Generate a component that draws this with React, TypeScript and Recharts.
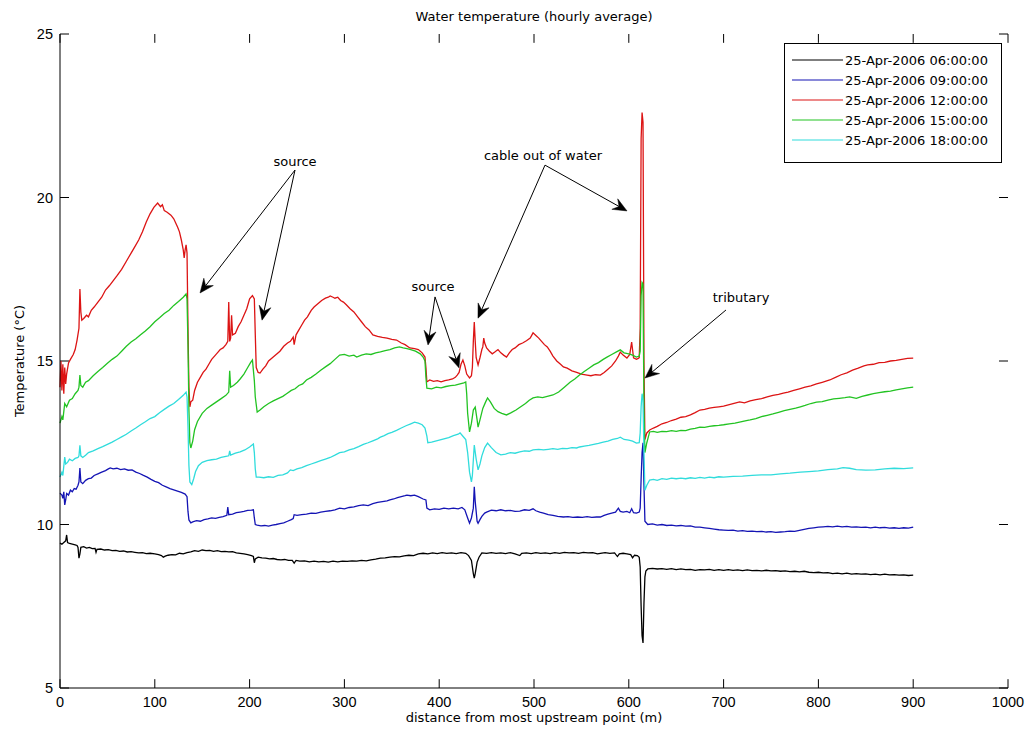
import React from 'react';
import { LineChart, Line, XAxis, YAxis, Legend, ReferenceLine, ReferenceDot } from 'recharts';

const FONT = '"DejaVu Sans", "Liberation Sans", sans-serif';
const TICK_FONT = '"Liberation Sans", Arial, sans-serif';

const xTicks = [0, 100, 200, 300, 400, 500, 600, 700, 800, 900, 1000];
const yTicks = [5, 10, 15, 20, 25];
const xDomain = [0, 1000];
const yDomain = [5, 25];

const seriesNames = [
  '25-Apr-2006 06:00:00',
  '25-Apr-2006 09:00:00',
  '25-Apr-2006 12:00:00',
  '25-Apr-2006 15:00:00',
  '25-Apr-2006 18:00:00',
];
const seriesColors = ['#000000', '#1414b4', '#dc1414', '#22c322', '#30dcdc'];

// [distance (m), temperature (°C)]
const t06 = [
  [0,9.43],[2,9.4],[4,9.45],[6,9.5],[7,9.68],[8,9.45],[10,9.42],[13,9.4],[16,9.38],[18,9.36],[19,9.3],[20,8.97],[21,9.1],[22,9.3],[25,9.32],[28,9.28],[31,9.3],[34,9.26],[37,9.27],[38,9.15],[39,9.24],[43,9.25],[47,9.22],[51,9.23],[55,9.2],[59,9.21],[63,9.18],[67,9.19],[71,9.16],[75,9.17],[79,9.15],[83,9.13],[87,9.14],[91,9.11],[95,9.12],[100,9.1],[104,9.08],[107,9.05],[109,9.0],[111,9.03],[114,9.06],[118,9.08],[122,9.07],[126,9.12],[130,9.1],[134,9.14],[138,9.16],[142,9.2],[146,9.18],[150,9.22],[154,9.2],[158,9.21],[162,9.18],[166,9.2],[170,9.17],[174,9.18],[178,9.16],[182,9.17],[186,9.13],[190,9.12],[194,9.1],[198,9.08],[202,9.05],[204,9.02],[205,8.83],[206,8.95],[209,9.0],[213,8.98],[217,8.97],[221,8.95],[225,8.96],[229,8.93],[233,8.92],[237,8.93],[241,8.9],[245,8.9],[247,8.82],[249,8.9],[253,8.88],[258,8.89],[263,8.86],[268,8.88],[273,8.86],[278,8.87],[283,8.85],[288,8.88],[293,8.86],[298,8.88],[303,8.87],[308,8.89],[313,8.88],[318,8.9],[323,8.89],[328,8.92],[333,8.94],[338,8.97],[343,8.98],[348,9.0],[353,9.02],[358,9.01],[363,9.04],[368,9.06],[373,9.05],[378,9.1],[383,9.12],[388,9.1],[393,9.13],[398,9.11],[403,9.14],[408,9.12],[413,9.13],[418,9.11],[423,9.14],[428,9.12],[431,9.05],[434,8.9],[436,8.5],[437,8.36],[438,8.5],[440,8.85],[442,9.0],[445,9.13],[450,9.12],[455,9.14],[460,9.12],[465,9.13],[470,9.11],[475,9.14],[480,9.1],[485,9.05],[487,9.12],[492,9.13],[497,9.11],[502,9.14],[507,9.12],[512,9.13],[517,9.11],[522,9.14],[527,9.12],[532,9.15],[537,9.13],[542,9.14],[547,9.12],[552,9.15],[557,9.13],[562,9.14],[567,9.1],[570,9.12],[575,9.14],[580,9.12],[585,9.13],[588,9.02],[590,9.1],[594,9.12],[598,9.1],[602,9.08],[604,8.98],[606,9.06],[609,9.05],[611,9.0],[612,8.7],[613,7.5],[614,6.6],[615,6.38],[616,7.6],[617,8.4],[618,8.58],[620,8.64],[625,8.66],[630,8.64],[635,8.65],[640,8.63],[645,8.65],[650,8.62],[655,8.64],[660,8.62],[665,8.63],[670,8.6],[675,8.62],[680,8.61],[685,8.63],[690,8.6],[695,8.62],[700,8.6],[705,8.62],[710,8.6],[715,8.61],[720,8.59],[725,8.61],[730,8.59],[735,8.6],[740,8.58],[745,8.6],[750,8.58],[755,8.59],[760,8.57],[765,8.58],[770,8.56],[775,8.57],[780,8.55],[785,8.57],[790,8.54],[795,8.53],[800,8.54],[805,8.52],[810,8.53],[815,8.5],[820,8.51],[825,8.49],[830,8.51],[835,8.48],[840,8.5],[845,8.48],[850,8.49],[855,8.47],[860,8.48],[865,8.46],[870,8.48],[875,8.46],[880,8.47],[885,8.45],[890,8.46],[895,8.44],[900,8.45],
];

const t09 = [
  [0,10.96],[2,10.9],[3,10.8],[4,11.0],[5,10.6],[6,10.75],[7,10.95],[9,10.9],[11,11.05],[13,11.0],[15,11.1],[17,11.08],[19,11.2],[20,11.3],[21,11.73],[22,11.3],[24,11.25],[27,11.35],[30,11.4],[33,11.42],[36,11.5],[40,11.55],[44,11.6],[48,11.65],[51,11.7],[53,11.73],[56,11.7],[60,11.72],[64,11.68],[68,11.7],[72,11.66],[76,11.67],[80,11.6],[84,11.56],[88,11.5],[92,11.45],[96,11.38],[100,11.32],[104,11.28],[108,11.2],[112,11.15],[116,11.1],[120,11.06],[124,11.02],[128,10.98],[132,10.93],[134,10.85],[135,10.4],[136,10.14],[138,10.05],[140,10.08],[144,10.12],[148,10.1],[152,10.15],[156,10.17],[160,10.2],[164,10.19],[168,10.22],[172,10.24],[176,10.28],[177,10.53],[178,10.3],[182,10.32],[186,10.36],[190,10.38],[194,10.4],[198,10.43],[202,10.44],[204,10.45],[205,10.2],[206,10.0],[208,9.98],[212,9.96],[216,9.97],[220,9.95],[224,9.98],[228,10.0],[232,10.03],[236,10.05],[240,10.1],[244,10.15],[246,10.18],[247,10.3],[250,10.28],[255,10.3],[260,10.32],[265,10.35],[270,10.34],[275,10.38],[280,10.4],[285,10.42],[290,10.45],[295,10.5],[300,10.48],[305,10.52],[310,10.54],[315,10.58],[320,10.6],[325,10.58],[330,10.64],[335,10.68],[340,10.7],[345,10.72],[348,10.75],[352,10.78],[356,10.82],[360,10.85],[364,10.88],[366,10.9],[370,10.88],[374,10.9],[378,10.85],[383,10.78],[386,10.75],[387,10.5],[390,10.45],[395,10.48],[400,10.46],[405,10.5],[410,10.48],[415,10.5],[420,10.48],[424,10.52],[427,10.45],[430,10.2],[432,10.04],[434,10.2],[436,10.5],[437,11.15],[438,10.7],[440,10.1],[441,10.04],[443,10.15],[445,10.25],[448,10.35],[450,10.38],[455,10.44],[460,10.42],[465,10.45],[470,10.42],[475,10.43],[480,10.4],[485,10.41],[490,10.45],[495,10.43],[499,10.48],[502,10.42],[506,10.38],[510,10.35],[515,10.3],[520,10.28],[525,10.25],[531,10.23],[536,10.24],[541,10.22],[546,10.23],[551,10.22],[556,10.24],[561,10.22],[566,10.23],[570,10.23],[574,10.28],[578,10.32],[582,10.35],[586,10.38],[589,10.5],[591,10.4],[594,10.38],[598,10.4],[601,10.36],[603,10.48],[605,10.36],[608,10.35],[611,10.38],[612,10.5],[613,11.4],[614,12.2],[615,12.5],[616,11.2],[617,10.1],[620,10.0],[625,10.02],[630,9.98],[635,10.0],[640,9.97],[645,9.98],[650,9.96],[655,9.97],[660,9.95],[665,9.96],[670,9.92],[675,9.92],[680,9.9],[685,9.88],[690,9.86],[695,9.84],[700,9.83],[705,9.82],[710,9.83],[715,9.8],[720,9.81],[725,9.79],[730,9.8],[735,9.78],[740,9.79],[745,9.77],[750,9.78],[755,9.76],[760,9.77],[765,9.78],[770,9.8],[775,9.79],[780,9.82],[785,9.85],[790,9.88],[795,9.9],[800,9.92],[805,9.93],[810,9.94],[815,9.93],[820,9.95],[825,9.93],[830,9.94],[835,9.92],[840,9.93],[845,9.91],[850,9.92],[855,9.9],[860,9.92],[865,9.9],[870,9.91],[875,9.89],[880,9.9],[885,9.88],[890,9.9],[895,9.89],[900,9.92],
];

const t12 = [
  [0,14.2],[1,15.0],[2,14.1],[3,14.9],[4,14.0],[5,14.8],[6,14.3],[7,14.6],[9,14.94],[11,15.05],[14,15.2],[16,15.35],[18,15.64],[20,16.0],[21,17.2],[22,16.5],[23,16.25],[25,16.3],[28,16.4],[30,16.35],[33,16.55],[36,16.65],[40,16.8],[44,16.95],[48,17.17],[52,17.3],[56,17.45],[60,17.6],[65,17.8],[70,18.05],[75,18.3],[79,18.5],[83,18.7],[87,18.95],[91,19.25],[95,19.5],[99,19.7],[103,19.83],[106,19.72],[108,19.78],[110,19.6],[113,19.55],[117,19.46],[120,19.35],[124,19.1],[126,18.95],[128,18.7],[130,18.4],[131,18.15],[132,18.4],[133,18.55],[134,18.3],[135,16.0],[136,14.2],[137,13.6],[138,13.75],[140,13.8],[142,14.1],[145,14.35],[148,14.5],[151,14.65],[154,14.75],[157,14.9],[160,15.05],[163,15.15],[166,15.25],[169,15.35],[172,15.4],[175,15.5],[177,15.6],[178,16.8],[179,15.6],[180,15.7],[181,16.4],[182,15.8],[185,15.85],[188,16.05],[191,16.2],[194,16.4],[197,16.6],[200,16.9],[203,17.0],[205,16.9],[206,15.8],[207,14.8],[209,14.65],[211,14.63],[214,14.75],[217,14.85],[220,15.0],[224,15.1],[228,15.2],[232,15.3],[236,15.45],[240,15.55],[243,15.6],[246,15.73],[247,15.5],[249,15.8],[252,15.95],[255,16.1],[258,16.25],[261,16.35],[265,16.55],[268,16.65],[272,16.75],[276,16.85],[280,16.92],[283,16.95],[285,16.99],[288,16.95],[290,16.92],[293,16.95],[296,16.85],[299,16.8],[302,16.72],[306,16.6],[310,16.5],[314,16.35],[318,16.2],[322,16.05],[326,15.95],[330,15.8],[335,15.75],[340,15.72],[345,15.7],[350,15.66],[355,15.64],[360,15.55],[364,15.5],[369,15.4],[374,15.38],[378,15.35],[382,15.25],[385,15.12],[386,14.8],[387,14.36],[390,14.42],[394,14.38],[398,14.4],[402,14.36],[406,14.4],[410,14.42],[414,14.45],[417,14.5],[419,14.57],[421,14.65],[423,14.9],[425,15.03],[427,14.85],[429,14.6],[432,14.48],[434,14.55],[435,14.8],[436,15.6],[437,16.19],[438,15.6],[439,15.1],[441,14.88],[443,15.1],[445,15.35],[446,15.43],[447,15.7],[448,15.55],[450,15.4],[453,15.3],[456,15.22],[459,15.28],[462,15.35],[465,15.25],[468,15.18],[471,15.12],[474,15.25],[477,15.35],[480,15.4],[484,15.5],[488,15.55],[492,15.62],[496,15.7],[499,15.86],[502,15.78],[505,15.7],[508,15.6],[511,15.5],[514,15.43],[517,15.3],[520,15.15],[524,15.0],[528,14.9],[531,14.82],[535,14.78],[540,14.7],[545,14.65],[550,14.6],[556,14.57],[560,14.55],[565,14.58],[570,14.57],[574,14.65],[578,14.75],[582,14.85],[586,15.0],[589,15.15],[591,15.27],[594,15.18],[598,15.09],[601,15.2],[603,15.58],[605,15.1],[608,15.05],[610,15.08],[611,15.1],[612,16.0],[613,21.8],[614,22.6],[615,22.3],[616,15.0],[617,12.6],[619,12.8],[622,12.89],[626,12.95],[630,13.0],[635,13.08],[640,13.12],[645,13.18],[650,13.22],[655,13.28],[660,13.3],[665,13.35],[670,13.42],[675,13.5],[680,13.52],[685,13.56],[690,13.58],[695,13.6],[700,13.62],[705,13.66],[710,13.7],[717,13.75],[722,13.72],[728,13.78],[734,13.82],[740,13.85],[746,13.9],[752,13.95],[758,13.98],[763,14.02],[768,14.05],[774,14.1],[780,14.15],[786,14.2],[792,14.24],[798,14.3],[804,14.35],[812,14.42],[818,14.5],[824,14.58],[830,14.64],[836,14.72],[842,14.78],[848,14.85],[852,14.88],[858,14.9],[864,14.95],[870,14.96],[876,15.0],[882,15.02],[888,15.05],[894,15.08],[900,15.09],
];

const t15 = [
  [0,13.1],[2,13.3],[3,13.2],[5,13.7],[7,13.6],[10,13.8],[13,13.85],[16,14.0],[19,14.1],[20,14.2],[21,14.57],[22,14.25],[24,14.2],[27,14.35],[30,14.4],[35,14.55],[40,14.68],[45,14.8],[50,14.93],[55,15.05],[60,15.15],[65,15.3],[70,15.45],[75,15.58],[80,15.68],[85,15.8],[90,15.92],[95,16.05],[100,16.2],[105,16.32],[110,16.45],[115,16.55],[120,16.7],[125,16.82],[130,16.95],[133,17.05],[134,16.9],[135,15.5],[136,13.5],[137,12.5],[138,12.34],[140,12.55],[142,12.9],[145,13.15],[150,13.4],[155,13.55],[160,13.65],[165,13.75],[170,13.85],[175,13.95],[178,14.05],[179,14.7],[180,14.2],[183,14.25],[187,14.35],[190,14.45],[194,14.6],[198,14.8],[201,14.95],[203,15.03],[205,14.4],[206,13.9],[208,13.44],[211,13.5],[215,13.6],[220,13.7],[225,13.78],[230,13.85],[235,13.92],[239,14.0],[244,14.1],[248,14.15],[252,14.25],[256,14.3],[260,14.42],[265,14.5],[270,14.6],[275,14.72],[280,14.82],[285,14.92],[290,15.05],[295,15.18],[300,15.2],[305,15.15],[310,15.18],[313,15.12],[318,15.18],[323,15.22],[328,15.2],[333,15.25],[338,15.28],[343,15.32],[348,15.35],[353,15.4],[358,15.43],[362,15.4],[366,15.38],[370,15.35],[375,15.3],[380,15.22],[383,15.12],[385,15.0],[386,14.5],[387,14.17],[392,14.15],[397,14.2],[402,14.18],[407,14.22],[412,14.25],[417,14.26],[422,14.3],[426,14.33],[428,14.36],[429,14.0],[430,13.4],[432,12.83],[434,13.1],[436,13.5],[438,13.59],[440,13.2],[441,12.98],[443,13.2],[446,13.55],[449,13.75],[451,13.87],[454,13.75],[458,13.55],[462,13.45],[466,13.4],[471,13.35],[476,13.42],[481,13.5],[486,13.6],[491,13.7],[495,13.8],[499,13.87],[504,13.9],[509,13.88],[514,13.92],[520,13.96],[526,14.05],[532,14.2],[538,14.35],[543,14.45],[548,14.57],[553,14.68],[558,14.78],[563,14.88],[568,14.95],[573,15.05],[577,15.12],[582,15.2],[587,15.28],[591,15.34],[595,15.25],[600,15.22],[604,15.18],[608,15.12],[611,15.15],[612,15.3],[613,17.0],[614,17.4],[615,17.35],[616,13.5],[617,12.2],[619,12.5],[622,12.83],[626,12.85],[630,12.82],[635,12.85],[640,12.84],[645,12.87],[650,12.85],[655,12.88],[660,12.87],[665,12.92],[670,12.94],[675,12.98],[680,12.97],[685,13.0],[690,13.02],[695,13.03],[700,13.05],[706,13.08],[712,13.1],[718,13.14],[724,13.18],[728,13.2],[734,13.24],[740,13.3],[746,13.34],[752,13.38],[758,13.43],[764,13.48],[770,13.52],[776,13.56],[781,13.6],[786,13.64],[792,13.7],[798,13.74],[804,13.76],[810,13.8],[816,13.84],[822,13.86],[828,13.88],[833,13.9],[840,13.86],[846,13.92],[852,13.96],[858,14.0],[864,14.03],[870,14.06],[876,14.08],[882,14.12],[888,14.15],[894,14.18],[900,14.2],
];

const t18 = [
  [0,11.45],[2,11.6],[3,11.5],[5,12.06],[6,11.85],[8,11.9],[10,12.0],[13,11.95],[16,12.02],[19,12.05],[20,12.1],[21,12.42],[22,12.1],[24,12.05],[27,12.12],[30,12.2],[35,12.25],[40,12.32],[45,12.38],[50,12.45],[55,12.52],[60,12.6],[65,12.68],[70,12.76],[75,12.86],[80,12.95],[85,13.05],[90,13.14],[95,13.24],[100,13.3],[105,13.42],[110,13.52],[115,13.62],[120,13.7],[125,13.82],[130,13.95],[133,14.05],[134,13.9],[135,13.0],[136,11.8],[137,11.3],[139,11.22],[141,11.4],[143,11.62],[146,11.8],[150,11.9],[155,11.95],[160,11.98],[165,12.0],[170,12.05],[175,12.08],[178,12.1],[179,12.25],[180,12.12],[185,12.18],[190,12.22],[195,12.28],[200,12.37],[204,12.46],[205,12.2],[206,11.7],[207,11.45],[210,11.45],[215,11.43],[220,11.46],[225,11.44],[230,11.5],[235,11.52],[240,11.58],[243,11.67],[246,11.65],[250,11.7],[255,11.74],[260,11.8],[265,11.85],[270,11.9],[275,11.95],[280,12.0],[285,12.05],[290,12.12],[295,12.2],[300,12.22],[305,12.28],[310,12.32],[315,12.38],[320,12.45],[325,12.5],[330,12.56],[335,12.62],[338,12.67],[342,12.72],[346,12.78],[350,12.82],[355,12.88],[360,12.95],[365,13.02],[370,13.08],[374,13.13],[378,13.1],[382,13.05],[385,12.95],[387,12.7],[388,12.5],[392,12.52],[396,12.55],[400,12.58],[405,12.62],[410,12.66],[415,12.72],[420,12.76],[422,12.8],[425,12.7],[428,12.6],[430,12.2],[432,11.6],[434,11.3],[435,11.5],[437,12.43],[439,12.0],[441,11.67],[443,11.85],[445,12.1],[448,12.35],[451,12.49],[455,12.35],[460,12.2],[465,12.13],[470,12.15],[475,12.2],[480,12.18],[485,12.22],[490,12.25],[495,12.24],[499,12.28],[505,12.3],[510,12.28],[515,12.3],[520,12.32],[525,12.3],[530,12.33],[535,12.32],[540,12.35],[545,12.34],[548,12.37],[553,12.4],[558,12.42],[563,12.45],[568,12.48],[573,12.52],[578,12.55],[583,12.6],[588,12.63],[591,12.67],[595,12.6],[600,12.58],[604,12.55],[608,12.49],[611,12.5],[612,12.8],[613,13.6],[614,14.0],[615,13.8],[616,12.2],[617,11.05],[619,11.2],[622,11.36],[626,11.38],[630,11.35],[635,11.4],[640,11.38],[645,11.42],[650,11.4],[655,11.42],[660,11.4],[665,11.43],[670,11.41],[675,11.44],[680,11.42],[685,11.45],[690,11.43],[695,11.46],[700,11.45],[710,11.47],[720,11.48],[730,11.5],[740,11.52],[750,11.52],[760,11.55],[770,11.57],[781,11.6],[790,11.62],[800,11.64],[810,11.68],[820,11.7],[826,11.74],[833,11.72],[840,11.68],[850,11.66],[860,11.67],[870,11.7],[880,11.72],[890,11.71],[900,11.73],
];

const seriesValues = [t06, t09, t12, t15, t18];

// annotations: labels [distance, temperature, text]
const annotationLabels = [
  [247.9, 21.09, 'source'],
  [393.5, 17.29, 'source'],
  [509.5, 21.3, 'cable out of water'],
  [718.4, 16.93, 'tributary'],
];
// arrows: [fromDist, fromTemp, toDist, toTemp]
const annotationArrows = [
  [247.9, 20.84, 147.7, 17.08],
  [247.9, 20.84, 213.1, 16.25],
  [395.6, 16.96, 388.2, 15.49],
  [395.6, 16.96, 420.9, 14.79],
  [511.6, 20.99, 440.9, 16.31],
  [511.6, 20.99, 598.1, 19.59],
  [702.5, 16.56, 617.1, 14.48],
];

// inward tick mark length expressed in axis units (≈9 px)
const X_TICK_LEN = 0.27; // °C
const Y_TICK_LEN = 9.5; // m

const toRows = (arr: number[][]) => arr.map(([d, t]) => ({ d, t }));

const ArrowShape = (p: any) => {
  const { x1, y1, x2, y2 } = p;
  const ang = Math.atan2(y2 - y1, x2 - x1);
  const L = 14;
  const W = 6;
  const ux = Math.cos(ang);
  const uy = Math.sin(ang);
  const bx = x2 - ux * L;
  const by = y2 - uy * L;
  const nx = x2 - ux * L * 0.65;
  const ny = y2 - uy * L * 0.65;
  const pts = [
    [x2, y2],
    [bx - uy * W, by + ux * W],
    [nx, ny],
    [bx + uy * W, by - ux * W],
  ]
    .map((q) => q.join(','))
    .join(' ');
  return (
    <g>
      <line x1={x1} y1={y1} x2={nx} y2={ny} stroke="#000" strokeWidth={1} />
      <polygon points={pts} fill="#000" stroke="#000" strokeWidth={0.5} />
    </g>
  );
};

const TickMark = (p: any) => {
  const { x1, y1, x2, y2 } = p;
  return <line x1={x1} y1={y1} x2={x2} y2={y2} stroke="#000" strokeWidth={1} />;
};

const LegendBox = (props: any) => {
  const payload = props.payload || [];
  return (
    <div
      style={{
        width: 218,
        height: 120,
        border: '1px solid #000',
        background: '#fff',
        boxSizing: 'border-box',
        paddingTop: 6,
        fontFamily: FONT,
        fontSize: 13,
        color: '#000',
      }}
    >
      {payload.map((e: any, i: number) => (
        <div key={i} style={{ height: 20, display: 'flex', alignItems: 'center' }}>
          <svg width={60} height={20} style={{ display: 'block' }}>
            <line x1={7} y1={10} x2={58} y2={10} stroke={e.color} strokeWidth={1.2} />
          </svg>
          <span style={{ whiteSpace: 'nowrap' }}>{e.value}</span>
        </div>
      ))}
    </div>
  );
};

const tickStyle = { fill: '#000', fontSize: 14.5, fontFamily: TICK_FONT };

export default function App() {
  const tickSegments: any[] = [];
  xTicks.forEach((v) => {
    tickSegments.push([{ x: v, y: yDomain[0] }, { x: v, y: yDomain[0] + X_TICK_LEN }]);
    tickSegments.push([{ x: v, y: yDomain[1] }, { x: v, y: yDomain[1] - X_TICK_LEN }]);
  });
  yTicks.forEach((v) => {
    tickSegments.push([{ x: xDomain[0], y: v }, { x: xDomain[0] + Y_TICK_LEN, y: v }]);
    tickSegments.push([{ x: xDomain[1], y: v }, { x: xDomain[1] - Y_TICK_LEN, y: v }]);
  });

  return (
    <div style={{ position: 'absolute', left: 0, top: 0, width: 1027, height: 734, background: '#fff' }}>
      <LineChart width={1027} height={734} margin={{ top: 34, right: 19, bottom: 16, left: 20 }}>
        <XAxis
          dataKey="d"
          type="number"
          domain={xDomain}
          ticks={xTicks}
          height={30}
          tickSize={0}
          tickMargin={9}
          stroke="#000"
          tickLine={false}
          axisLine={{ stroke: '#000' }}
          tick={tickStyle}
          allowDuplicatedCategory={false}
          interval={0}
        />
        <XAxis
          xAxisId="top"
          orientation="top"
          dataKey="d"
          type="number"
          domain={xDomain}
          ticks={xTicks}
          height={0}
          tickSize={0}
          stroke="#000"
          tickLine={false}
          axisLine={{ stroke: '#000' }}
          tick={false}
        />
        <YAxis
          type="number"
          domain={yDomain}
          ticks={yTicks}
          width={40}
          tickSize={0}
          tickMargin={7}
          stroke="#000"
          tickLine={false}
          axisLine={{ stroke: '#000' }}
          tick={tickStyle}
          interval={0}
        />
        <YAxis
          yAxisId="right"
          orientation="right"
          type="number"
          domain={yDomain}
          ticks={yTicks}
          width={0}
          tickSize={0}
          stroke="#000"
          tickLine={false}
          axisLine={{ stroke: '#000' }}
          tick={false}
        />
        {tickSegments.map((s, i) => (
          <ReferenceLine key={'tk' + i} segment={s} shape={<TickMark />} ifOverflow="visible" />
        ))}
        {seriesValues.map((vals, i) => (
          <Line
            key={seriesNames[i]}
            data={toRows(vals)}
            dataKey="t"
            name={seriesNames[i]}
            stroke={seriesColors[i]}
            strokeWidth={1.3}
            dot={false}
            activeDot={false}
            type="linear"
            isAnimationActive={false}
          />
        ))}
        {annotationArrows.map((a, i) => (
          <ReferenceLine
            key={'arr' + i}
            segment={[
              { x: a[0], y: a[1] },
              { x: a[2], y: a[3] },
            ]}
            shape={<ArrowShape />}
            ifOverflow="visible"
          />
        ))}
        {annotationLabels.map((l, i) => (
          <ReferenceDot
            key={'lab' + i}
            x={l[0] as number}
            y={l[1] as number}
            ifOverflow="visible"
            shape={(p: any) => (
              <text
                x={p.cx}
                y={p.cy}
                dy="0.35em"
                textAnchor="middle"
                fontSize={13}
                fontFamily={FONT}
                fill="#000"
              >
                {l[2]}
              </text>
            )}
          />
        ))}
        <Legend
          layout="vertical"
          align="center"
          verticalAlign="middle"
          content={<LegendBox />}
          wrapperStyle={{ position: 'absolute', left: 784, top: 43, width: 218, height: 120 }}
        />
      </LineChart>
      <div
        style={{
          position: 'absolute',
          left: 60,
          width: 948,
          top: 8,
          height: 18,
          lineHeight: '18px',
          textAlign: 'center',
          fontFamily: FONT,
          fontSize: 13,
          color: '#000',
        }}
      >
        Water temperature (hourly average)
      </div>
      <div
        style={{
          position: 'absolute',
          left: 60,
          width: 948,
          top: 709,
          height: 18,
          lineHeight: '18px',
          textAlign: 'center',
          fontFamily: FONT,
          fontSize: 13,
          color: '#000',
        }}
      >
        distance from most upstream point (m)
      </div>
      <div
        style={{
          position: 'absolute',
          left: 20 - 150,
          width: 300,
          top: 361 - 9,
          height: 18,
          lineHeight: '18px',
          textAlign: 'center',
          fontFamily: FONT,
          fontSize: 13,
          color: '#000',
          transform: 'rotate(-90deg)',
        }}
      >
        Temperature (°C)
      </div>
    </div>
  );
}
